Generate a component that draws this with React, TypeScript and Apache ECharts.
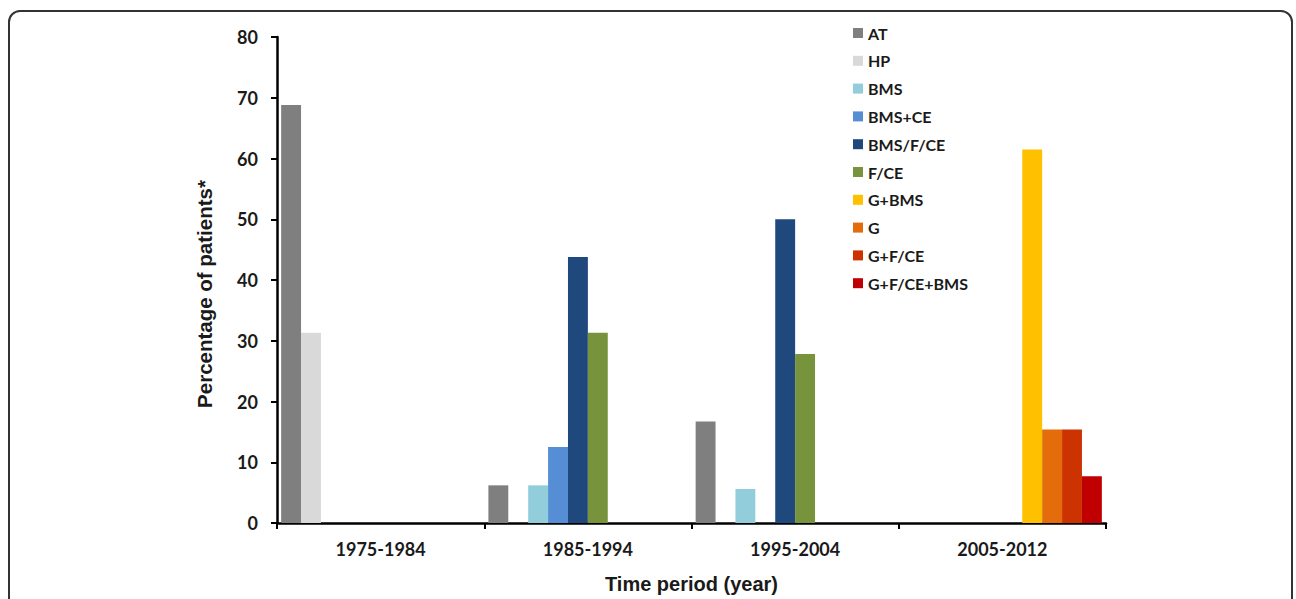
import React, { useEffect, useRef } from "react";
import * as echarts from "echarts";

const categories = ["1975-1984", "1985-1994", "1995-2004", "2005-2012"];
const seriesNames = ["AT", "HP", "BMS", "BMS+CE", "BMS/F/CE", "F/CE", "G+BMS", "G", "G+F/CE", "G+F/CE+BMS"];
const seriesColors = ["#7f7f7f", "#d9d9d9", "#92cddc", "#558ed5", "#1f497d", "#77933c", "#ffc000", "#e46c0a", "#cc3300", "#c00000"];
const AT = [68.8, 6.2, 16.7, 0];
const HP = [31.3, 0, 0, 0];
const BMS = [0, 6.2, 5.6, 0];
const BMS_CE = [0, 12.5, 0, 0];
const BMS_F_CE = [0, 43.8, 50.0, 0];
const F_CE = [0, 31.3, 27.8, 0];
const G_BMS = [0, 0, 0, 61.5];
const G = [0, 0, 0, 15.4];
const G_F_CE = [0, 0, 0, 15.4];
const G_F_CE_BMS = [0, 0, 0, 7.7];
const seriesValues = [AT, HP, BMS, BMS_CE, BMS_F_CE, F_CE, G_BMS, G, G_F_CE, G_F_CE_BMS];
const yTicks = { min: 0, max: 80, interval: 10 };

const CAL = "Lato, 'Open Sans', sans-serif";
const ARIAL = "'Liberation Sans', Arial, sans-serif";

export default function App() {
  const ref = useRef<HTMLDivElement>(null);
  useEffect(() => {
    if (!ref.current) return;
    const chart = echarts.init(ref.current, null, { renderer: "svg" });
    chart.setOption({
      animation: false,
      backgroundColor: "#ffffff",
      graphic: [
        {
          type: "rect",
          shape: { x: 9, y: 11, width: 1283, height: 640, r: 11 },
          style: { fill: "none", stroke: "#333333", lineWidth: 2 },
          silent: true,
          z: -10,
        },
      ],
      grid: { left: 277, right: 190, top: 37, bottom: 72, containLabel: false },
      legend: {
        orient: "vertical",
        left: 853,
        top: 25,
        padding: 0,
        itemWidth: 10,
        itemHeight: 10,
        itemGap: 11.8,
        icon: "rect",
        data: seriesNames,
        textStyle: { fontFamily: CAL, fontWeight: "bold", fontSize: 16, lineHeight: 16, color: "#1a1a1a" },
      },
      xAxis: {
        type: "category",
        data: categories,
        boundaryGap: true,
        axisLine: { lineStyle: { color: "#000", width: 2.5 } },
        axisTick: { show: true, length: 6, lineStyle: { color: "#000", width: 2 } },
        axisLabel: { margin: 17, fontFamily: CAL, fontWeight: "bold", fontSize: 18, color: "#1a1a1a" },
        name: "Time period (year)",
        nameLocation: "middle",
        nameGap: 51,
        nameTextStyle: { fontFamily: ARIAL, fontWeight: "bold", fontSize: 20, color: "#1a1a1a" },
      },
      yAxis: {
        type: "value",
        min: yTicks.min,
        max: yTicks.max,
        interval: yTicks.interval,
        splitLine: { show: false },
        axisLine: { show: true, lineStyle: { color: "#000", width: 2.5 } },
        axisTick: { show: true, length: 6, lineStyle: { color: "#000", width: 2 } },
        axisLabel: { margin: 19, fontFamily: CAL, fontWeight: "bold", fontSize: 18, color: "#1a1a1a" },
        name: "Percentage of patients*",
        nameLocation: "middle",
        nameGap: 62,
        nameRotate: 90,
        nameTextStyle: { fontFamily: ARIAL, fontWeight: "bold", fontSize: 20.5, color: "#1a1a1a", padding: [0, 28, 0, 0] },
      },
      series: seriesNames.map((name, i) => ({
        name,
        type: "bar",
        data: seriesValues[i],
        barGap: "0%",
        barCategoryGap: "4%",
        itemStyle: { color: seriesColors[i] },
      })),
    });
    return () => chart.dispose();
  }, []);
  return <div ref={ref} style={{ position: "absolute", left: 0, top: 0, width: 1296, height: 599 }} />;
}
